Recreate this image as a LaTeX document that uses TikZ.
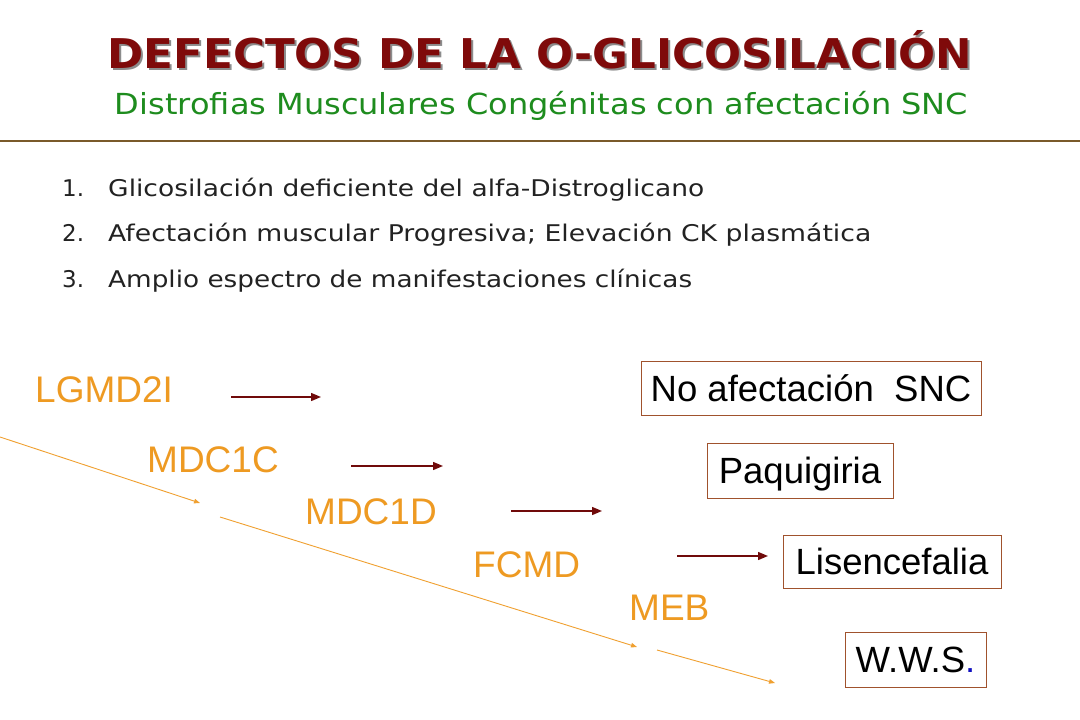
\documentclass[tikz,border=0pt]{standalone}
\usepackage{fontspec}
\usepackage{graphicx}
\setmainfont{DejaVu Sans}
\newfontfamily\arialf{Liberation Sans}
\usetikzlibrary{arrows.meta}
\definecolor{titlered}{HTML}{7F0A0A}
\definecolor{subgreen}{HTML}{1E8C1E}
\definecolor{rulebrown}{HTML}{7A5A2A}
\definecolor{labelorange}{HTML}{EE9A22}
\definecolor{linkorange}{HTML}{F0A030}
\definecolor{arrowred}{HTML}{700A0A}
\definecolor{boxbrown}{HTML}{A0522D}
\definecolor{listgray}{HTML}{222222}
\definecolor{dotblue}{HTML}{1010C0}
\tikzset{
  titletext/.style={anchor=base, inner sep=0pt, text=titlered, font=\fontsize{41}{41}\selectfont\bfseries},
  titleshadow/.style={anchor=base, inner sep=0pt, text=black!45, font=\fontsize{41}{41}\selectfont\bfseries},
  subtext/.style={anchor=base, inner sep=0pt, text=subgreen, font=\fontsize{29}{29}\selectfont},
  listnum/.style={anchor=base west, inner sep=0pt, text=listgray, font=\fontsize{23}{23}\selectfont},
  listtext/.style={anchor=base west, inner sep=0pt, text=listgray, font=\fontsize{23}{23}\selectfont},
  disease/.style={anchor=base west, inner sep=0pt, text=labelorange, font=\arialf\fontsize{37}{37}\selectfont},
  outcome/.style={draw=boxbrown, line width=0.9pt, inner sep=0pt, text=black, font=\arialf\fontsize{36.5}{36.5}\selectfont, text height=26pt, text depth=0pt, align=center},
  redarrow/.style={draw=arrowred, line width=1.4pt, -{Triangle[length=10pt,width=8pt]}},
  orangearrow/.style={draw=linkorange, line width=0.9pt, -{Triangle[length=6pt,width=4.5pt]}},
}
\begin{document}
\begin{tikzpicture}[x=1pt,y=-1pt]
\useasboundingbox[fill=white] (0,0) rectangle (1080,720);
% title
\node[titleshadow] (tshadow) at (542,70) {\resizebox{865pt}{\height}{DEFECTOS DE LA O-GLICOSILACIÓN}};
\node[titletext] (title) at (540,68) {\resizebox{865pt}{\height}{DEFECTOS DE LA O-GLICOSILACIÓN}};
\node[subtext] (subtitle) at (541.5,114) {\resizebox{853pt}{\height}{Distrofias Musculares Congénitas con afectación SNC}};
% rule
\coordinate (ruleL) at (0,141);
\coordinate (ruleR) at (1080,141);
\draw[rulebrown, line width=1.5pt] (ruleL) -- (ruleR);
% list
\node[listnum] (n1) at (62,196) {1.};
\node[listtext] (l1) at (108,196) {\resizebox{596pt}{\height}{Glicosilación deficiente del alfa-Distroglicano}};
\node[listnum] (n2) at (62,241) {2.};
\node[listtext] (l2) at (108,241) {\resizebox{763pt}{\height}{Afectación muscular Progresiva; Elevación CK plasmática}};
\node[listnum] (n3) at (62,287) {3.};
\node[listtext] (l3) at (108,287) {\resizebox{584pt}{\height}{Amplio espectro de manifestaciones clínicas}};
% disease labels
\node[disease] (lgmd) at (35,402) {LGMD2I};
\node[disease] (mdc1c) at (147,472) {MDC1C};
\node[disease] (mdc1d) at (305,524) {MDC1D};
\node[disease] (fcmd) at (473,577) {FCMD};
\node[disease] (meb) at (629,620) {MEB};
% outcome boxes
\node[outcome, minimum width=340pt, minimum height=54pt] (snc) at (811,388) {No afectación\ \ SNC};
\node[outcome, minimum width=186pt, minimum height=55pt] (paq) at (800,470.5) {Paquigiria};
\node[outcome, minimum width=218pt, minimum height=53pt] (lis) at (892,561.5) {Lisencefalia};
\node[outcome, minimum width=141pt, minimum height=55pt] (wws) at (915.5,659.5) {W.W.S\textcolor{dotblue}{.}};
% red arrows
\coordinate (a1s) at (231,397); \coordinate (a1e) at (321,397);
\coordinate (a2s) at (351,466); \coordinate (a2e) at (443,466);
\coordinate (a3s) at (511,511); \coordinate (a3e) at (602,511);
\coordinate (a4s) at (677,556); \coordinate (a4e) at (768,556);
\draw[redarrow] (a1s) -- (a1e);
\draw[redarrow] (a2s) -- (a2e);
\draw[redarrow] (a3s) -- (a3e);
\draw[redarrow] (a4s) -- (a4e);
% orange arrows
\coordinate (o1s) at (0,437); \coordinate (o1e) at (200,503);
\coordinate (o2s) at (220,517); \coordinate (o2e) at (637,647);
\coordinate (o3s) at (657,650); \coordinate (o3e) at (775,683);
\draw[orangearrow] (o1s) -- (o1e);
\draw[orangearrow] (o2s) -- (o2e);
\draw[orangearrow] (o3s) -- (o3e);
\end{tikzpicture}
\end{document}
